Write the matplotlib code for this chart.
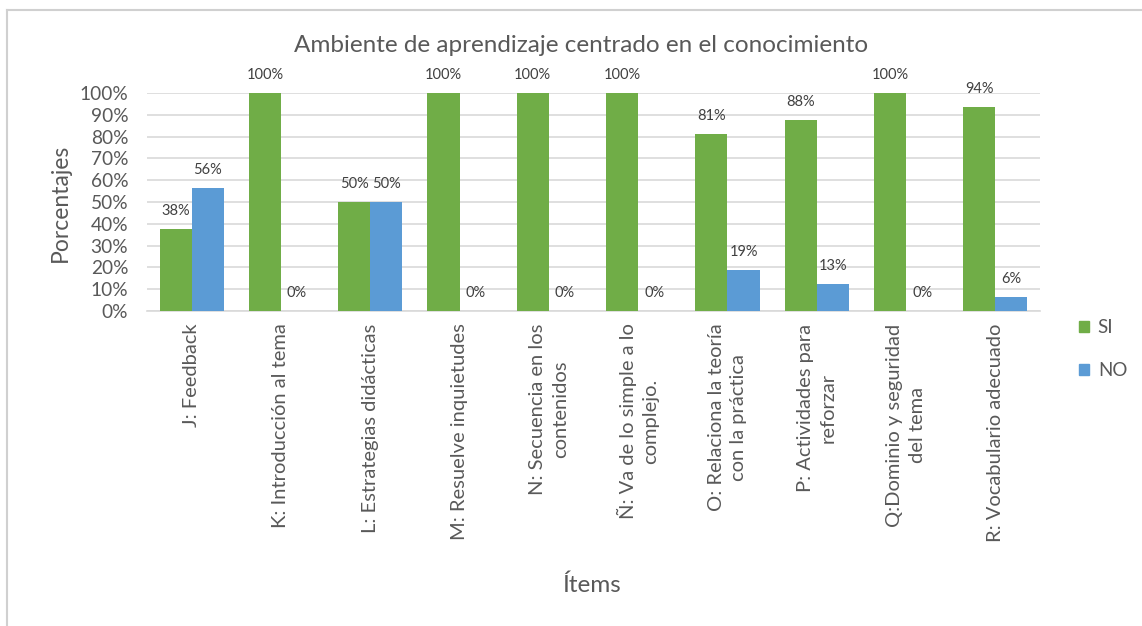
import matplotlib
matplotlib.use("Agg")
import matplotlib.pyplot as plt
import numpy as np
from matplotlib.lines import Line2D
from matplotlib.patches import Patch

plt.rcParams['font.family'] = ['Lato', 'DejaVu Sans']

categories = [
    "J: Feedback",
    "K: Introducción al tema",
    "L: Estrategias didácticas",
    "M: Resuelve inquietudes",
    "N: Secuencia en los\ncontenidos",
    "Ñ: Va de lo simple a lo\ncomplejo.",
    "O: Relaciona la teoría\ncon la práctica",
    "P: Actividades para\nreforzar",
    "Q:Dominio y seguridad\ndel tema",
    "R: Vocabulario adecuado",
]
si_values = [37.5, 100, 50, 100, 100, 100, 81.25, 87.5, 100, 93.75]
no_values = [56.25, 0, 50, 0, 0, 0, 18.75, 12.5, 0, 6.25]
series_names = ["SI", "NO"]
yticks = [0, 10, 20, 30, 40, 50, 60, 70, 80, 90, 100]

GREEN = "#70AD47"
BLUE = "#5B9BD5"
TXT = "#595959"
GRID = "#D9D9D9"

W, H = 1142, 626
fig = plt.figure(figsize=(W / 100, H / 100), dpi=100)
ax = fig.add_axes([147 / W, 1 - 311 / H, (1040 - 147) / W, (311 - 93) / H])

x = np.arange(len(categories))
bw = 0.36
b1 = ax.bar(x - bw / 2, si_values, bw, color=GREEN, zorder=3)
b2 = ax.bar(x + bw / 2, no_values, bw, color=BLUE, zorder=3)

def lab(v):
    return f"{int(np.floor(v + 0.5))}%"

for bars, vals in ((b1, si_values), (b2, no_values)):
    for r, v in zip(bars, vals):
        ax.annotate(lab(v), (r.get_x() + r.get_width() / 2, v),
                    xytext=(0, 8), textcoords="offset points",
                    ha="center", va="bottom", fontsize=10.5, color="#404040")

ax.set_xlim(-0.5, len(categories) - 0.5)
ax.set_ylim(0, 100)
ax.set_yticks(yticks)
ax.set_yticklabels([f"{t}%" for t in yticks], fontsize=13.8, color=TXT)
ax.set_xticks(x)
ax.set_xticklabels(categories, rotation=90, fontsize=14.5, color=TXT,
                   ha="center", va="top", multialignment="center",
                   linespacing=1.4)
ax.tick_params(axis="both", length=0)
ax.tick_params(axis="x", pad=9)
ax.tick_params(axis="y", pad=13.5)
ax.yaxis.grid(True, color=GRID, linewidth=1.2, zorder=0)
for s in ("top", "right", "left"):
    ax.spines[s].set_visible(False)
ax.spines["bottom"].set_color(GRID)
ax.spines["bottom"].set_linewidth(1.2)
ax.set_axisbelow(True)

fig.text(60 / W, 1 - 203 / H, "Porcentajes", fontsize=16.5, color=TXT,
         rotation=90, ha="center", va="center")
fig.text(592 / W, 1 - 585 / H, "Ítems", fontsize=17.5, color=TXT,
         ha="center", va="center")
fig.text(581 / W, 1 - 46 / H, "Ambiente de aprendizaje centrado en el conocimiento",
         fontsize=17.5, color=TXT, ha="center", va="center")

handles = [Patch(color=GREEN), Patch(color=BLUE)]
leg = fig.legend(handles, series_names, loc="upper left",
                 bbox_to_anchor=(1079 / W, 1 - 319 / H), frameon=False,
                 borderpad=0, borderaxespad=0,
                 fontsize=13.5, handlelength=0.55, handleheight=0.55,
                 labelspacing=1.4, handletextpad=0.45, labelcolor=TXT)

# outer frame
fig.add_artist(Line2D([7 / W, 1], [1 - 10 / H, 1 - 10 / H], color="#D0D0D0", lw=1.5,
                      transform=fig.transFigure))
fig.add_artist(Line2D([7 / W, 7 / W], [0, 1 - 10 / H], color="#D0D0D0", lw=1.5,
                      transform=fig.transFigure))

fig.savefig("out.png", dpi=100)
